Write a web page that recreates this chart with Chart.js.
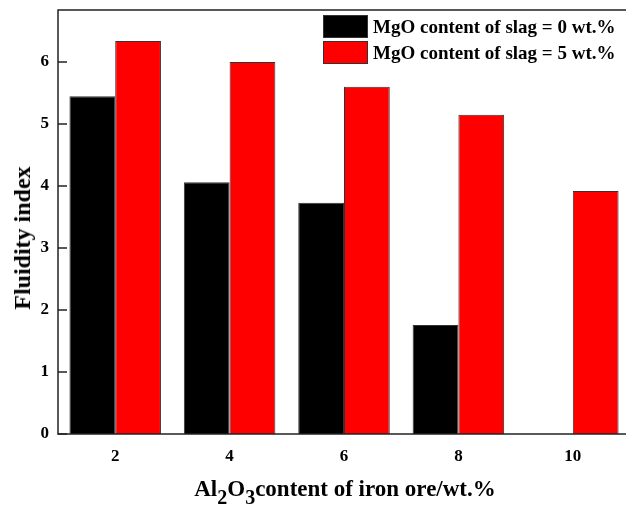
<!DOCTYPE html>
<html lang="en">
<head>
<meta charset="UTF-8">
<title>Fluidity index vs Al2O3 content</title>
<script src="https://cdn.jsdelivr.net/npm/chart.js"></script>
<style>
  html, body { margin: 0; padding: 0; overflow: hidden; background: #fff; }
  #wrap { position: absolute; left: 0; top: 0; width: 632px; height: 507px; }
  .lbl { position: absolute; font-family: "Liberation Serif", "Times New Roman", serif; font-weight: bold; color: #000; white-space: nowrap; line-height: 1; }
  #ytitle { font-size: 24px; left: 22px; top: 238px; transform: translate(-50%, -50%) rotate(-90deg); }
  #xtitle { font-size: 23px; left: 345px; top: 477px; transform: translateX(-50%); }
  #xtitle sub { font-size: 20px; vertical-align: -8px; line-height: 0; }
  #legend { left: 323px; top: 13px; font-size: 19px; }
  .item { display: flex; align-items: center; height: 26px; }
  .box { width: 45px; height: 23px; border: 1px solid #333; box-sizing: border-box; margin-right: 5px; }
</style>
</head>
<body>
<div id="wrap"><canvas id="fluidityChart"></canvas></div>
<div class="lbl" id="ytitle">Fluidity index</div>
<div class="lbl" id="xtitle">Al<sub>2</sub>O<sub>3</sub>content of iron ore/wt.%</div>
<div class="lbl" id="legend"></div>

<script>
    // Al2O3 content of iron ore (wt.%)
    const al2o3Labels = ['2', '4', '6', '8', '10'];
    // fluidity index, MgO content of slag = 0 wt.% (no bar at 10)
    const mgo0Values = [5.45, 4.06, 3.73, 1.76, null];
    // fluidity index, MgO content of slag = 5 wt.%
    const mgo5Values = [6.34, 6.00, 5.60, 5.15, 3.92];
    const yTicks = [0, 1, 2, 3, 4, 5, 6];

    // frame round the plot + short inward ticks on the y axis
    const framePlugin = {
        id: 'frame',
        afterDraw(chart) {
            const ctx = chart.ctx;
            const a = chart.chartArea;
            const y = chart.scales.y;
            ctx.save();
            ctx.strokeStyle = '#222';
            ctx.lineWidth = 1.5;
            ctx.strokeRect(a.left, a.top, a.right - a.left, a.bottom - a.top);
            ctx.beginPath();
            yTicks.forEach(function(v) {
                const py = y.getPixelForValue(v);
                ctx.moveTo(a.left, py);
                ctx.lineTo(a.left + 9, py);
            });
            ctx.stroke();
            ctx.restore();
        }
    };

    const ctx = document.getElementById('fluidityChart').getContext('2d');
    const chart = new Chart(ctx, {
        type: 'bar',
        data: {
            labels: al2o3Labels,
            datasets: [{
                label: 'MgO content of slag = 0 wt.%',
                data: mgo0Values,
                backgroundColor: '#000000',
                borderColor: '#333333',
                borderWidth: 1
            }, {
                label: 'MgO content of slag = 5 wt.%',
                data: mgo5Values,
                backgroundColor: '#ff0000',
                borderColor: '#333333',
                borderWidth: 1
            }]
        },
        options: {
            responsive: true,
            maintainAspectRatio: false,
            animation: false,
            layout: { padding: { top: 10, right: 2, left: 0, bottom: 0 } },
            plugins: {
                legend: { display: false },
                tooltip: { enabled: false }
            },
            datasets: {
                bar: { categoryPercentage: 0.8, barPercentage: 1.0 }
            },
            scales: {
                x: {
                    grid: { display: false, drawTicks: false },
                    border: { display: false },
                    ticks: {
                        color: '#000',
                        padding: 12,
                        font: { family: 'Liberation Serif', size: 17, weight: 'bold' }
                    },
                    afterFit: function(s) { s.height = 73; s.paddingLeft = 0; s.paddingRight = 0; }
                },
                y: {
                    min: 0,
                    max: 6.84,
                    grid: { display: false, drawTicks: false },
                    border: { display: false },
                    ticks: {
                        stepSize: 1,
                        includeBounds: false,
                        color: '#000',
                        padding: 9,
                        font: { family: 'Liberation Serif', size: 17, weight: 'bold' },
                        callback: function(v) { return Number.isInteger(v) ? v : ''; }
                    },
                    afterFit: function(s) { s.width = 58; s.paddingTop = 0; s.paddingBottom = 0; }
                }
            }
        },
        plugins: [framePlugin]
    });

    // legend drawn as html so it can sit in the top right corner
    const legendEl = document.getElementById('legend');
    chart.data.datasets.forEach(function(ds) {
        const row = document.createElement('div');
        row.className = 'item';
        const box = document.createElement('span');
        box.className = 'box';
        box.style.background = ds.backgroundColor;
        const txt = document.createElement('span');
        txt.textContent = ds.label;
        row.appendChild(box);
        row.appendChild(txt);
        legendEl.appendChild(row);
    });
</script>
</body>
</html>
